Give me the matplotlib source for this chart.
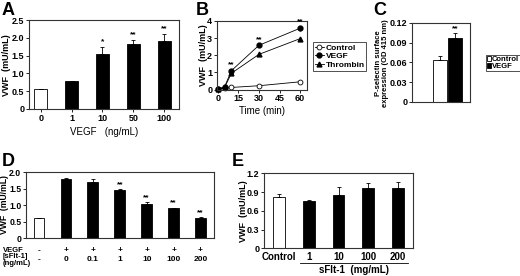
import matplotlib.pyplot as plt
import numpy as np

plt.rcParams['font.family'] = ['Liberation Sans', 'DejaVu Sans']
plt.rcParams['font.weight'] = 'bold'
plt.rcParams['font.size'] = 6.5
plt.rcParams['axes.linewidth'] = 0.8

# panel A
a_labels = ['0', '1', '10', '50', '100']
a_vals = [0.56, 0.79, 1.55, 1.83, 1.92]
a_err = [0, 0, 0.2, 0.11, 0.2]
a_stars = ['', '', '*', '**', '**']

# panel B
b_time = [0, 5, 10, 30, 60]
b_control = [0.03, 0.08, 0.12, 0.22, 0.45]
b_vegf = [0.03, 0.15, 1.1, 2.58, 3.58]
b_vegf_err = [0, 0.03, 0.12, 0.1, 0.15]
b_thrombin = [0.03, 0.12, 0.95, 2.05, 2.97]
b_stars = ['', '', '**', '**', '**']

# panel C
c_labels = ['Control', 'VEGF']
c_vals = [0.064, 0.097]
c_err = [0.005, 0.007]

# panel D
d_vegf = ['-', '+', '+', '+', '+', '+', '+']
d_sflt = ['-', '0', '0.1', '1', '10', '100', '200']
d_vals = [0.61, 1.80, 1.70, 1.46, 1.04, 0.90, 0.61]
d_err = [0.01, 0.02, 0.1, 0.02, 0.05, 0.02, 0.03]
d_stars = ['', '', '', '**', '**', '**', '**']

# panel E
e_labels = ['Control', '1', '10', '100', '200']
e_vals = [0.82, 0.75, 0.86, 0.965, 0.965]
e_err = [0.05, 0.03, 0.12, 0.075, 0.1]

W, H = 520, 276
fig = plt.figure(figsize=(W / 100, H / 100), dpi=100)


def rect(l, t, r, b):
    return [l / W, 1 - b / H, (r - l) / W, (b - t) / H]


def style(ax):
    ax.tick_params(length=2, width=0.6, pad=1.5, labelsize=6.5)
    for s in ax.spines.values():
        s.set_color('#333333')


def bars(ax, vals, err, width, colors):
    x = np.arange(len(vals))
    ax.bar(x, vals, width, color=colors, edgecolor='black', linewidth=0.6)
    ax.errorbar(x, vals, yerr=[np.zeros(len(vals)), err], fmt='none',
                ecolor='black', elinewidth=0.6, capsize=1.2, capthick=0.6)
    return x


# A
ax = fig.add_axes(rect(29, 20, 179, 109))
x = bars(ax, a_vals, a_err, 0.43, ['white'] + ['black'] * 4)
for i, s in enumerate(a_stars):
    if s:
        ax.text(i, a_vals[i] + a_err[i] + 0.04, s, ha='center', va='bottom', fontsize=6)
ax.set_xlim(-0.38, 4.48)
ax.set_ylim(0, 2.5)
ax.set_xticks(x)
ax.set_xticklabels(a_labels)
ax.set_yticks([0, 0.5, 1.0, 1.5, 2.0, 2.5])
ax.set_yticklabels(['0', '0.5', '1.0', '1.5', '2.0', '2.5'])
style(ax)
ax.set_xlabel('VEGF   (ng/mL)', fontsize=7, labelpad=3)
fig.text(7 / W, 1 - 65 / H, 'VWF  (mU/mL)', rotation=90, fontsize=6.5,
         ha='center', va='center')
fig.text(2 / W, 1 - 2 / H, 'A', fontsize=13, va='top')

# B
ax = fig.add_axes(rect(217, 21, 307, 89.5))
h1, = ax.plot(b_time, b_control, '-o', color='black', mfc='white', ms=3.5, lw=0.6,
              mew=0.6, clip_on=False)
ax.errorbar(b_time, b_vegf, yerr=b_vegf_err, fmt='none', ecolor='black',
            elinewidth=0.6, capsize=0)
h2, = ax.plot(b_time, b_vegf, '-o', color='black', ms=3.5, lw=0.6, clip_on=False)
h3, = ax.plot(b_time, b_thrombin, '-^', color='black', ms=3.5, lw=0.6,
              clip_on=False)
for t, v, e, s in zip(b_time, b_vegf, b_vegf_err, b_stars):
    if s:
        ax.text(t, v + e + 0.05, s, ha='center', va='bottom', fontsize=6)
ax.set_xlim(-0.5, 65)
ax.set_ylim(0, 4)
ax.set_xticks([0, 15, 30, 45, 60])
ax.set_yticks([0, 1, 2, 3, 4])
ax.set_xlabel('Time (min)', fontsize=7, labelpad=2)
style(ax)
fig.text(203 / W, 1 - 55 / H, 'VWF  (mU/mL)', rotation=90, fontsize=6.5,
         ha='center', va='center')
ax.legend([h1, h2, h3], ['Control', 'VEGF', 'Thrombin'], loc='upper left',
          bbox_to_anchor=(313 / W, 1 - 42 / H),
          bbox_transform=fig.transFigure, fontsize=6, frameon=True,
          fancybox=False, edgecolor='black', handlelength=1.1,
          handletextpad=0.2, borderpad=0.2, labelspacing=0.1,
          borderaxespad=0).get_frame().set_linewidth(0.6)
fig.text(196 / W, 1 - 2 / H, 'B', fontsize=13, va='top')

# C
ax = fig.add_axes(rect(412, 23, 470, 101.7))
cx = [0.49, 0.74]
for i in range(2):
    ax.bar(cx[i], c_vals[i], 0.24, color=['white', 'black'][i], edgecolor='black',
           linewidth=0.6, label=c_labels[i])
ax.errorbar(cx, c_vals, yerr=[[0, 0], c_err], fmt='none', ecolor='black',
            elinewidth=0.6, capsize=1.2, capthick=0.6)
ax.text(cx[1], c_vals[1] + c_err[1] + 0.002, '**', ha='center', va='bottom', fontsize=6)
ax.set_xlim(0, 1)
ax.set_ylim(0, 0.12)
ax.set_xticks([])
ax.set_yticks([0, 0.03, 0.06, 0.09, 0.12])
ax.set_yticklabels(['0', '0.03', '0.06', '0.09', '0.12'])
style(ax)
fig.text(382 / W, 1 - 63 / H, 'P-selectin surface\nexpression (OD 415 nm)',
         rotation=90, fontsize=5.5, ha='center', va='center', linespacing=1.0)
ax.legend(loc='upper left', bbox_to_anchor=(486 / W, 1 - 55 / H),
          bbox_transform=fig.transFigure, fontsize=5.5, frameon=True,
          fancybox=False, edgecolor='black', handlelength=0.6, handleheight=0.6,
          handletextpad=0.1, borderpad=0.1, labelspacing=0.05,
          borderaxespad=0).get_frame().set_linewidth(0.6)
fig.text(373 / W, 1 - 2 / H, 'C', fontsize=13, va='top')

# D
ax = fig.add_axes(rect(25.5, 172, 214, 238.3))
x = bars(ax, d_vals, d_err, 0.4, ['white'] + ['black'] * 6)
for i, s in enumerate(d_stars):
    if s:
        ax.text(i, d_vals[i] + d_err[i] + 0.04, s, ha='center', va='bottom', fontsize=6)
ax.set_xlim(-0.5, 6.5)
ax.set_ylim(0, 2.0)
ax.set_xticks([])
ax.set_yticks([0, 0.5, 1.0, 1.5, 2.0])
ax.set_yticklabels(['0', '0.5', '1.0', '1.5', '2.0'])
style(ax)
ax.tick_params(axis='y', labelsize=6.2, pad=1)
fig.text(4.5 / W, 1 - 205 / H, 'VWF  (mU/mL)', rotation=90, fontsize=6.2,
         ha='center', va='center')
tr = ax.get_xaxis_transform()
for i in range(len(d_vals)):
    ax.text(i, -0.18, d_vegf[i], transform=tr, ha='center', va='center', fontsize=6)
    ax.text(i, -0.32, d_sflt[i], transform=tr, ha='center', va='center', fontsize=6)
fig.text(3 / W, 1 - 250 / H, 'VEGF', fontsize=5.5, va='center')
fig.text(3 / W, 1 - 256.5 / H, '[sFlt-1]', fontsize=5.5, va='center')
fig.text(3 / W, 1 - 263.5 / H, '(ng/mL)', fontsize=5.5, va='center')
fig.text(2 / W, 1 - 153 / H, 'D', fontsize=13, va='top')

# E
ax = fig.add_axes(rect(264, 173.3, 413, 248.3))
x = bars(ax, e_vals, e_err, 0.4, ['white'] + ['black'] * 4)
ax.set_xlim(-0.5, 4.5)
ax.set_ylim(0, 1.2)
ax.set_xticks(x)
ax.set_xticklabels(e_labels)
ax.set_yticks([0, 0.3, 0.6, 0.9, 1.2])
ax.set_yticklabels(['0', '0.3', '0.6', '0.9', '1.2'])
style(ax)
ax.tick_params(axis='x', length=0, labelsize=7, pad=3)
fig.text(243 / W, 1 - 211 / H, 'VWF  (mU/mL)', rotation=90, fontsize=6.5,
         ha='center', va='center')
fig.add_artist(plt.Line2D([300 / W, 408 / W], [1 - 263 / H, 1 - 263 / H],
                          color='black', lw=0.6))
fig.text(354 / W, 1 - 270 / H, 'sFlt-1  (mg/mL)', fontsize=7, ha='center', va='center')
fig.text(232 / W, 1 - 153 / H, 'E', fontsize=13, va='top')

fig.savefig('out.png', dpi=100)
